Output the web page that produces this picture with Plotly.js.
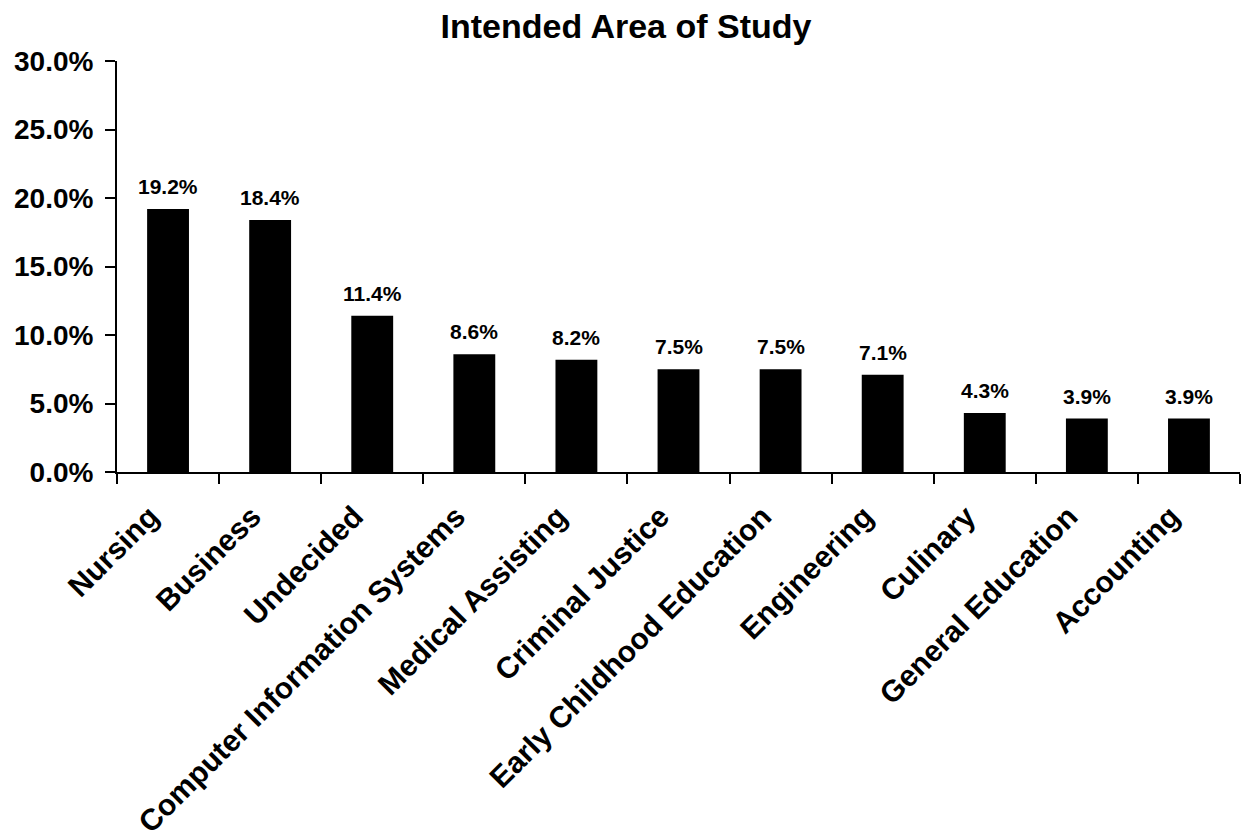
<!DOCTYPE html>
<html>
<head>
<meta charset="utf-8">
<script src="https://cdn.plot.ly/plotly-3.0.1.min.js"></script>
<style>html,body{margin:0;padding:0;background:#fff;}#chart{width:1246px;height:840px;}</style>
</head>
<body>
<div id="chart"></div>
<script>
const categories = ["Nursing", "Business", "Undecided", "Computer Information Systems", "Medical Assisting", "Criminal Justice", "Early Childhood Education", "Engineering", "Culinary", "General Education", "Accounting"];
const percents = [19.2, 18.4, 11.4, 8.6, 8.2, 7.5, 7.5, 7.1, 4.3, 3.9, 3.9];
const valueLabels = ["19.2%", "18.4%", "11.4%", "8.6%", "8.2%", "7.5%", "7.5%", "7.1%", "4.3%", "3.9%", "3.9%"];
const yTickValues = [0, 5, 10, 15, 20, 25, 30];
const yTickLabels = ["0.0%", "5.0%", "10.0%", "15.0%", "20.0%", "25.0%", "30.0%"];

const FONT = '"Liberation Sans", Arial, Helvetica, sans-serif';

const trace = {
  type: 'bar',
  x: categories,
  y: percents,
  marker: {color: '#000000', line: {width: 0}},
  hoverinfo: 'none'
};

const annotations = categories.map((c, i) => ({
  x: c, y: percents[i], xref: 'x', yref: 'y',
  text: valueLabels[i], showarrow: false,
  yanchor: 'bottom', yshift: 9,
  font: {family: FONT, size: 21, color: '#000', weight: 'bold'}
}));

const layout = {
  width: 1246, height: 840,
  paper_bgcolor: '#ffffff', plot_bgcolor: '#ffffff',
  margin: {l: 117, r: 6, t: 61, b: 368, pad: 0},
  showlegend: false,
  bargap: 0.59,
  title: {
    text: 'Intended Area of Study',
    font: {family: FONT, size: 34, color: '#000', weight: 'bold'},
    xref: 'container', x: 0.5024, xanchor: 'center',
    yref: 'container', y: 0.969, yanchor: 'middle'
  },
  xaxis: {
    type: 'category',
    tickangle: -45,
    tickson: 'boundaries',
    ticks: 'outside', ticklen: 10, tickwidth: 2, tickcolor: '#000',
    showline: true, linecolor: '#000', linewidth: 2,
    showgrid: false, zeroline: false,
    ticklabelshift: -18,
    ticklabelstandoff: 13,
    tickfont: {family: FONT, size: 30, color: '#000', weight: 'bold'},
    automargin: false
  },
  yaxis: {
    range: [0, 30],
    tickmode: 'array',
    tickvals: yTickValues,
    ticktext: yTickLabels,
    ticks: 'outside', ticklen: 10, tickwidth: 2, tickcolor: '#000',
    showline: true, linecolor: '#000', linewidth: 2,
    showgrid: false, zeroline: false,
    ticklabelstandoff: 6,
    tickfont: {family: FONT, size: 28, color: '#000', weight: 'bold'},
    automargin: false
  },
  annotations: annotations
};

Plotly.newPlot('chart', [trace], layout, {staticPlot: true, displayModeBar: false});
</script>
</body>
</html>
